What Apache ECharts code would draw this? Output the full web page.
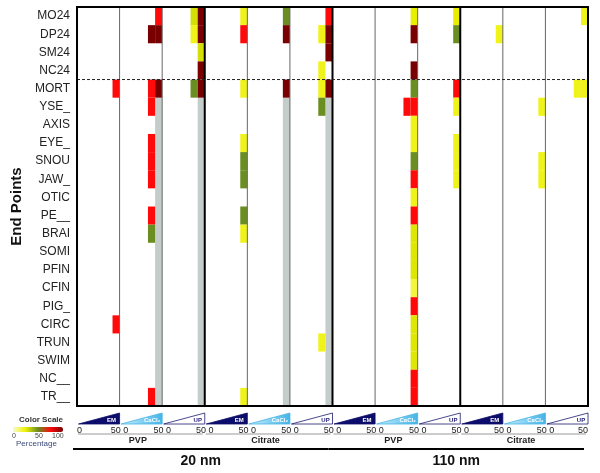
<!DOCTYPE html>
<html>
<head>
<meta charset="utf-8">
<script src="https://cdn.jsdelivr.net/npm/echarts@6/dist/echarts.min.js"></script>
<style>html,body{margin:0;padding:0;background:#fff}#c{width:600px;height:473px}</style>
</head>
<body>
<div id="c"></div>
<script>
// ---------- data ----------
const rows = ['MO24','DP24','SM24','NC24','MORT','YSE_','AXIS','EYE_','SNOU','JAW_','OTIC','PE__','BRAI','SOMI','PFIN','CFIN','PIG_','CIRC','TRUN','SWIM','NC__','TR__'];
const sizes = ['20 nm', '110 nm'];
const coatings = ['PVP', 'Citrate'];
const media = ['EM', 'CaCl\u2082', 'UP'];
const concTicks = ['0', '50'];
const concMax = 50;
// concentration bins shown (0 = second highest, 1 = highest concentration)
const concBins = [[33.3, 41.7], [41.7, 50]];

// [endpoint, concentration bin, % affected]
const nm20_PVP_EM = [['MORT',1,75],['CIRC',1,75]];
const nm20_PVP_CaCl2 = [['MO24',1,75],['DP24',0,100],['DP24',1,100],['MORT',0,75],['MORT',1,100],['YSE_',0,75],['EYE_',0,75],['SNOU',0,75],['JAW_',0,75],['PE__',0,75],['BRAI',0,50],['TR__',0,75]];
const nm20_PVP_UP = [['MO24',0,30],['MO24',1,100],['DP24',0,22],['DP24',1,100],['SM24',1,30],['NC24',1,100],['MORT',0,50],['MORT',1,100]];
const nm20_Cit_EM = [['MO24',1,22],['DP24',1,75],['MORT',1,22],['EYE_',1,22],['SNOU',1,50],['JAW_',1,50],['PE__',1,50],['BRAI',1,22],['TR__',1,22]];
const nm20_Cit_CaCl2 = [['MO24',1,50],['DP24',1,100],['MORT',1,100]];
const nm20_Cit_UP = [['MO24',1,75],['DP24',0,22],['DP24',1,100],['SM24',1,100],['NC24',0,22],['MORT',0,22],['MORT',1,100],['YSE_',0,50],['TRUN',0,22]];
const nm110_PVP_EM = [];
const nm110_PVP_CaCl2 = [['MO24',1,26],['DP24',1,100],['NC24',1,100],['MORT',1,50],['YSE_',0,75],['YSE_',1,75],['AXIS',1,22],['EYE_',1,22],['SNOU',1,50],['JAW_',1,75],['OTIC',1,22],['PE__',1,75],['BRAI',1,28],['SOMI',1,28],['PFIN',1,28],['CFIN',1,18],['PIG_',1,75],['CIRC',1,28],['TRUN',1,28],['SWIM',1,28],['NC__',1,75],['TR__',1,75]];
const nm110_PVP_UP = [['MO24',1,26],['DP24',1,50],['MORT',1,75],['YSE_',1,22],['EYE_',1,22],['SNOU',1,22],['JAW_',1,22]];
const nm110_Cit_EM = [['DP24',1,22]];
const nm110_Cit_CaCl2 = [['YSE_',1,22],['SNOU',1,22],['JAW_',1,22]];
const nm110_Cit_UP = [['MO24',1,22],['MORT',0,22],['MORT',1,22]];

// columns without data (all embryos dead): [panel, bin, first endpoint, last endpoint]
const noData = [[1,1,'YSE_','TR__'],[2,1,'YSE_','TR__'],[4,1,'YSE_','TR__'],[5,1,'YSE_','TR__']];

const colorStops = ['#fbfbd2', '#eef200', '#6b8e23', '#ff0a0a', '#780000'];

// ---------- build ----------
const panelData = [nm20_PVP_EM, nm20_PVP_CaCl2, nm20_PVP_UP, nm20_Cit_EM, nm20_Cit_CaCl2, nm20_Cit_UP,
                   nm110_PVP_EM, nm110_PVP_CaCl2, nm110_PVP_UP, nm110_Cit_EM, nm110_Cit_CaCl2, nm110_Cit_UP];
const nPanels = sizes.length * coatings.length * media.length;
const xMax = nPanels * concMax;

const cellData = [];
panelData.forEach((arr, p) => {
  arr.forEach(([ep, b, v]) => {
    cellData.push([p * concMax + concBins[b][0], p * concMax + concBins[b][1], rows.indexOf(ep), v]);
  });
});
const grayData = noData.map(([p, b, r0, r1]) => [p * concMax + concBins[b][0], p * concMax + concBins[b][1], rows.indexOf(r0), rows.indexOf(r1)]);

const panelItems = [];
for (let p = 0; p < nPanels; p++) panelItems.push([p * concMax, (p + 1) * concMax, p % media.length]);
const coatingItems = [];
for (let g = 0; g < sizes.length * coatings.length; g++) coatingItems.push([g * concMax * media.length, (g + 1) * concMax * media.length, g % coatings.length]);
const sizeItems = sizes.map((s, i) => [i * xMax / sizes.length, (i + 1) * xMax / sizes.length, i]);

const FONT = 'Arial, "Liberation Sans", Helvetica, sans-serif';

const chart = echarts.init(document.getElementById('c'), null, {renderer: 'canvas'});

function rowEdges(api, r0, r1) {
  const h = api.size([0, 1])[1];
  return [api.coord([0, r0])[1] - h / 2, api.coord([0, r1])[1] + h / 2];
}

const option = {
  animation: false,
  backgroundColor: '#fff',
  grid: {left: 77, right: 12, top: 7, bottom: 67, show: false},
  xAxis: {
    type: 'value', min: 0, max: xMax, interval: concMax,
    axisLine: {show: false}, axisTick: {show: false}, splitLine: {show: false},
    axisLabel: {
      margin: 20, fontSize: 9, color: '#222', fontFamily: FONT,
      showMinLabel: true, showMaxLabel: true,
      alignMinLabel: 'left', alignMaxLabel: 'right',
      formatter: v => v === 0 ? concTicks[0] : (v === xMax ? concTicks[1] : concTicks[1] + ' ' + concTicks[0])
    }
  },
  yAxis: {
    type: 'category', data: rows, inverse: true,
    axisLine: {show: false}, axisTick: {show: false}, splitLine: {show: false},
    axisLabel: {margin: 7, fontSize: 12, color: '#222', fontFamily: FONT},
    name: 'End Points', nameLocation: 'middle', nameRotate: 90, nameGap: 52,
    nameTextStyle: {fontSize: 15, fontWeight: 'bold', color: '#111', fontFamily: FONT}
  },
  visualMap: {
    type: 'continuous', min: 0, max: 100, dimension: 3, seriesIndex: 0,
    orient: 'horizontal', left: 13, top: 427, itemWidth: 5, itemHeight: 50,
    padding: 0, calculable: false, hoverLink: false,
    inRange: {color: colorStops}
  },
  graphic: [
    {type: 'text', left: 19, top: 416, style: {text: 'Color Scale', fontSize: 8, fontWeight: 'bold', fill: '#333', fontFamily: FONT}},
    {type: 'text', left: 12, top: 433, style: {text: '0', fontSize: 7, fill: '#444', fontFamily: FONT}},
    {type: 'text', left: 35, top: 433, style: {text: '50', fontSize: 7, fill: '#444', fontFamily: FONT}},
    {type: 'text', left: 52, top: 433, style: {text: '100', fontSize: 7, fill: '#444', fontFamily: FONT}},
    {type: 'text', left: 16, top: 440, style: {text: 'Percentage', fontSize: 8, fill: '#3b4a7a', fontFamily: FONT}}
  ],
  series: [
    {
      type: 'custom', name: 'cells', data: cellData, encode: {x: [0, 1], y: 2},
      renderItem(params, api) {
        const a = api.coord([api.value(0), api.value(2)]);
        const b = api.coord([api.value(1), api.value(2)]);
        const h = api.size([0, 1])[1];
        return {type: 'rect', shape: {x: a[0], y: a[1] - h / 2, width: b[0] - a[0], height: h},
                style: {fill: api.visual('color')}};
      },
      z: 3
    },
    {
      type: 'custom', name: 'nodata', data: grayData, encode: {x: [0, 1], y: 2},
      renderItem(params, api) {
        const x0 = api.coord([api.value(0), 0])[0];
        const x1 = api.coord([api.value(1), 0])[0];
        const [y0, y1] = rowEdges(api, api.value(2), api.value(3));
        return {type: 'rect', shape: {x: x0, y: y0, width: x1 - x0, height: y1 - y0}, style: {fill: '#c4cccc'}};
      },
      z: 2
    },
    {
      type: 'custom', name: 'frame', data: [[0]], silent: true,
      renderItem(params, api) {
        const [yt, yb] = rowEdges(api, 0, rows.length - 1);
        const children = [];
        for (let p = 1; p < nPanels; p++) {
          const x = api.coord([p * concMax, 0])[0];
          const thick = p % media.length === 0;
          children.push({type: 'line', shape: {x1: x, y1: yt, x2: x, y2: yb},
            style: {stroke: thick ? '#000' : '#666', lineWidth: thick ? 2 : 1}});
        }
        // dashed separator between 24 h endpoints and 120 h endpoints
        const yd = (api.coord([0, 3])[1] + api.coord([0, 4])[1]) / 2;
        const xl = api.coord([0, 0])[0], xr = api.coord([xMax, 0])[0];
        children.push({type: 'line', shape: {x1: xl, y1: yd, x2: xr, y2: yd},
          style: {stroke: '#222', lineWidth: 1, lineDash: [3, 2]}});
        children.push({type: 'rect', shape: {x: xl, y: yt, width: xr - xl, height: yb - yt},
          style: {fill: null, stroke: '#000', lineWidth: 2}});
        return {type: 'group', children};
      },
      z: 10
    },
    {
      type: 'custom', name: 'media', data: panelItems, silent: true, clip: false,
      renderItem(params, api) {
        const l = api.coord([api.value(0), 0])[0] + 1.5;
        const r = api.coord([api.value(1), 0])[0];
        const B = params.coordSys.y + params.coordSys.height;
        const m = api.value(2);
        const pts = [[l, B + 18], [r, B + 18], [r, B + 7]];
        let fill, stroke = null, tcol = '#fff', tx = r - 8;
        if (m === 0) { fill = '#0c0c6a'; stroke = '#0c0c6a'; }
        else if (m === 1) {
          fill = new echarts.graphic.LinearGradient(0, 0, 1, 0, [{offset: 0, color: '#c9eefc'}, {offset: 1, color: '#45b4e6'}]);
          stroke = '#45b4e6'; tx = r - 10;
        } else { fill = '#fff'; stroke = '#1a1a70'; tcol = '#1a1a70'; tx = r - 7; }
        return {type: 'group', children: [
          {type: 'polygon', shape: {points: pts}, style: {fill, stroke, lineWidth: 0.8}},
          {type: 'text', x: tx, y: B + 14, style: {text: media[m], fontSize: 6, fontWeight: 'bold', fill: tcol,
            align: 'center', verticalAlign: 'middle', fontFamily: FONT}}
        ]};
      }
    },
    {
      type: 'custom', name: 'coatings', data: coatingItems, silent: true, clip: false,
      renderItem(params, api) {
        const l = api.coord([api.value(0), 0])[0];
        const r = api.coord([api.value(1), 0])[0];
        const B = params.coordSys.y + params.coordSys.height;
        return {type: 'group', children: [
          {type: 'line', shape: {x1: l + 1, y1: B + 28, x2: r - 2, y2: B + 28}, style: {stroke: '#999', lineWidth: 1}},
          {type: 'text', x: (l + r) / 2 - 3, y: B + 35, style: {text: coatings[api.value(2)], fontSize: 9, fontWeight: 'bold',
            fill: '#222', align: 'center', verticalAlign: 'middle', fontFamily: FONT}}
        ]};
      }
    },
    {
      type: 'custom', name: 'sizes', data: sizeItems, silent: true, clip: false,
      renderItem(params, api) {
        const l = api.coord([api.value(0), 0])[0] - 4;
        const r = api.coord([api.value(1), 0])[0] - 4;
        const B = params.coordSys.y + params.coordSys.height;
        return {type: 'group', children: [
          {type: 'line', shape: {x1: l, y1: B + 43, x2: r, y2: B + 43}, style: {stroke: '#000', lineWidth: 2}},
          {type: 'text', x: (l + r) / 2, y: B + 55, style: {text: sizes[api.value(2)], fontSize: 14, fontWeight: 'bold',
            fill: '#111', align: 'center', verticalAlign: 'middle', fontFamily: FONT}}
        ]};
      }
    }
  ]
};
chart.setOption(option);
</script>
</body>
</html>
